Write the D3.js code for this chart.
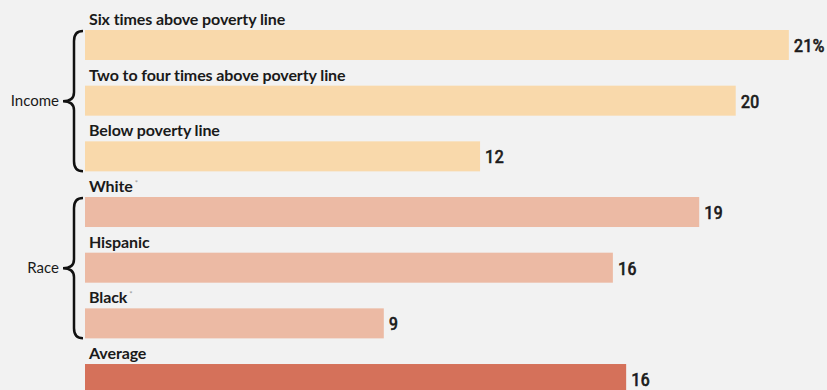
<!DOCTYPE html>
<html>
<head>
<meta charset="utf-8">
<script src="https://cdn.jsdelivr.net/npm/d3@7"></script>
<style>
  html, body { margin: 0; padding: 0; background: #f2f2f2; }
  svg { display: block; }
  text { font-family: Lato, "Open Sans", sans-serif; fill: #1a1a1a; }
  .val { font-family: "Liberation Sans Narrow", "Roboto Condensed", Lato, sans-serif; }
</style>
</head>
<body>
<div id="chart"></div>
<script>
const W = 827, H = 390;

// data
const categories = ["Six times above poverty line", "Two to four times above poverty line", "Below poverty line",
  "White", "Hispanic", "Black", "Average"];
const values = [21.2, 19.6, 11.9, 18.5, 15.9, 9.0, 16.3];
const valueLabels = ["21%", "20", "12", "19", "16", "9", "16"];
const footnoted = [false, false, false, true, false, true, false];
const groupOf = ["Income", "Income", "Income", "Race", "Race", "Race", "Average"];
const groupNames = ["Income", "Race"];
const groupColors = { Income: "#f9d9ab", Race: "#ecbaa4", Average: "#d5715a" };

const svg = d3.select("#chart").append("svg")
  .attr("width", W)
  .attr("height", H);

svg.append("rect").attr("width", W).attr("height", H).attr("fill", "#f2f2f2");

const x = d3.scaleLinear().domain([0, 25]).range([85, 85 + 25 * 33.2]);
const y = d3.scaleBand()
  .domain(categories)
  .range([30, 30 + 55.67 * (categories.length - 0.461)])
  .paddingInner(0.461)
  .paddingOuter(0);

const rows = categories.map((c, i) => ({ cat: c, value: values[i], label: valueLabels[i], note: footnoted[i], group: groupOf[i] }));

// bars
svg.selectAll(".bar")
  .data(rows)
  .enter().append("rect")
  .attr("class", "bar")
  .attr("x", x(0))
  .attr("y", d => y(d.cat))
  .attr("width", d => x(d.value) - x(0))
  .attr("height", y.bandwidth())
  .attr("fill", d => groupColors[d.group]);

// category names above bars
const names = svg.selectAll(".cat")
  .data(rows)
  .enter().append("text")
  .attr("class", "cat")
  .attr("x", x(0) + 4)
  .attr("y", d => y(d.cat) - 5)
  .style("font-size", "16px")
  .style("font-weight", "bold")
  .style("letter-spacing", "-0.1px")
  .text(d => d.cat);

names.filter(d => d.note)
  .append("tspan")
  .attr("dx", 2)
  .attr("dy", -6)
  .style("font-size", "8px")
  .style("font-weight", "normal")
  .style("fill", "#999")
  .text("*");

// value labels
svg.selectAll(".val")
  .data(rows)
  .enter().append("text")
  .attr("class", "val")
  .attr("x", d => x(d.value) + 5)
  .attr("y", d => y(d.cat) + y.bandwidth() / 2)
  .attr("dy", "0.36em")
  .style("font-size", "19px")
  .style("stroke", "#1a1a1a")
  .style("stroke-width", 0.6)
  .text(d => d.label);

// group braces and labels
const braceX = 74, tipX = 63, endX = 83;
groupNames.forEach(g => {
  const members = rows.filter(d => d.group === g);
  const top = y(members[0].cat) + 1;
  const bot = y(members[members.length - 1].cat) + y.bandwidth();
  const mid = (top + bot) / 2;
  const p = d3.path();
  p.moveTo(endX, top);
  p.quadraticCurveTo(braceX, top, braceX, top + 10);
  p.lineTo(braceX, mid - 9);
  p.quadraticCurveTo(braceX, mid, tipX, mid);
  p.quadraticCurveTo(braceX, mid, braceX, mid + 9);
  p.lineTo(braceX, bot - 10);
  p.quadraticCurveTo(braceX, bot, endX, bot);
  svg.append("path")
    .attr("d", p.toString())
    .attr("fill", "none")
    .attr("stroke", "#111")
    .attr("stroke-width", 2.5);

  svg.append("text")
    .attr("x", 59)
    .attr("y", mid)
    .attr("dy", "0.35em")
    .attr("text-anchor", "end")
    .style("font-size", "15px")
    .text(g);
});
</script>
</body>
</html>
